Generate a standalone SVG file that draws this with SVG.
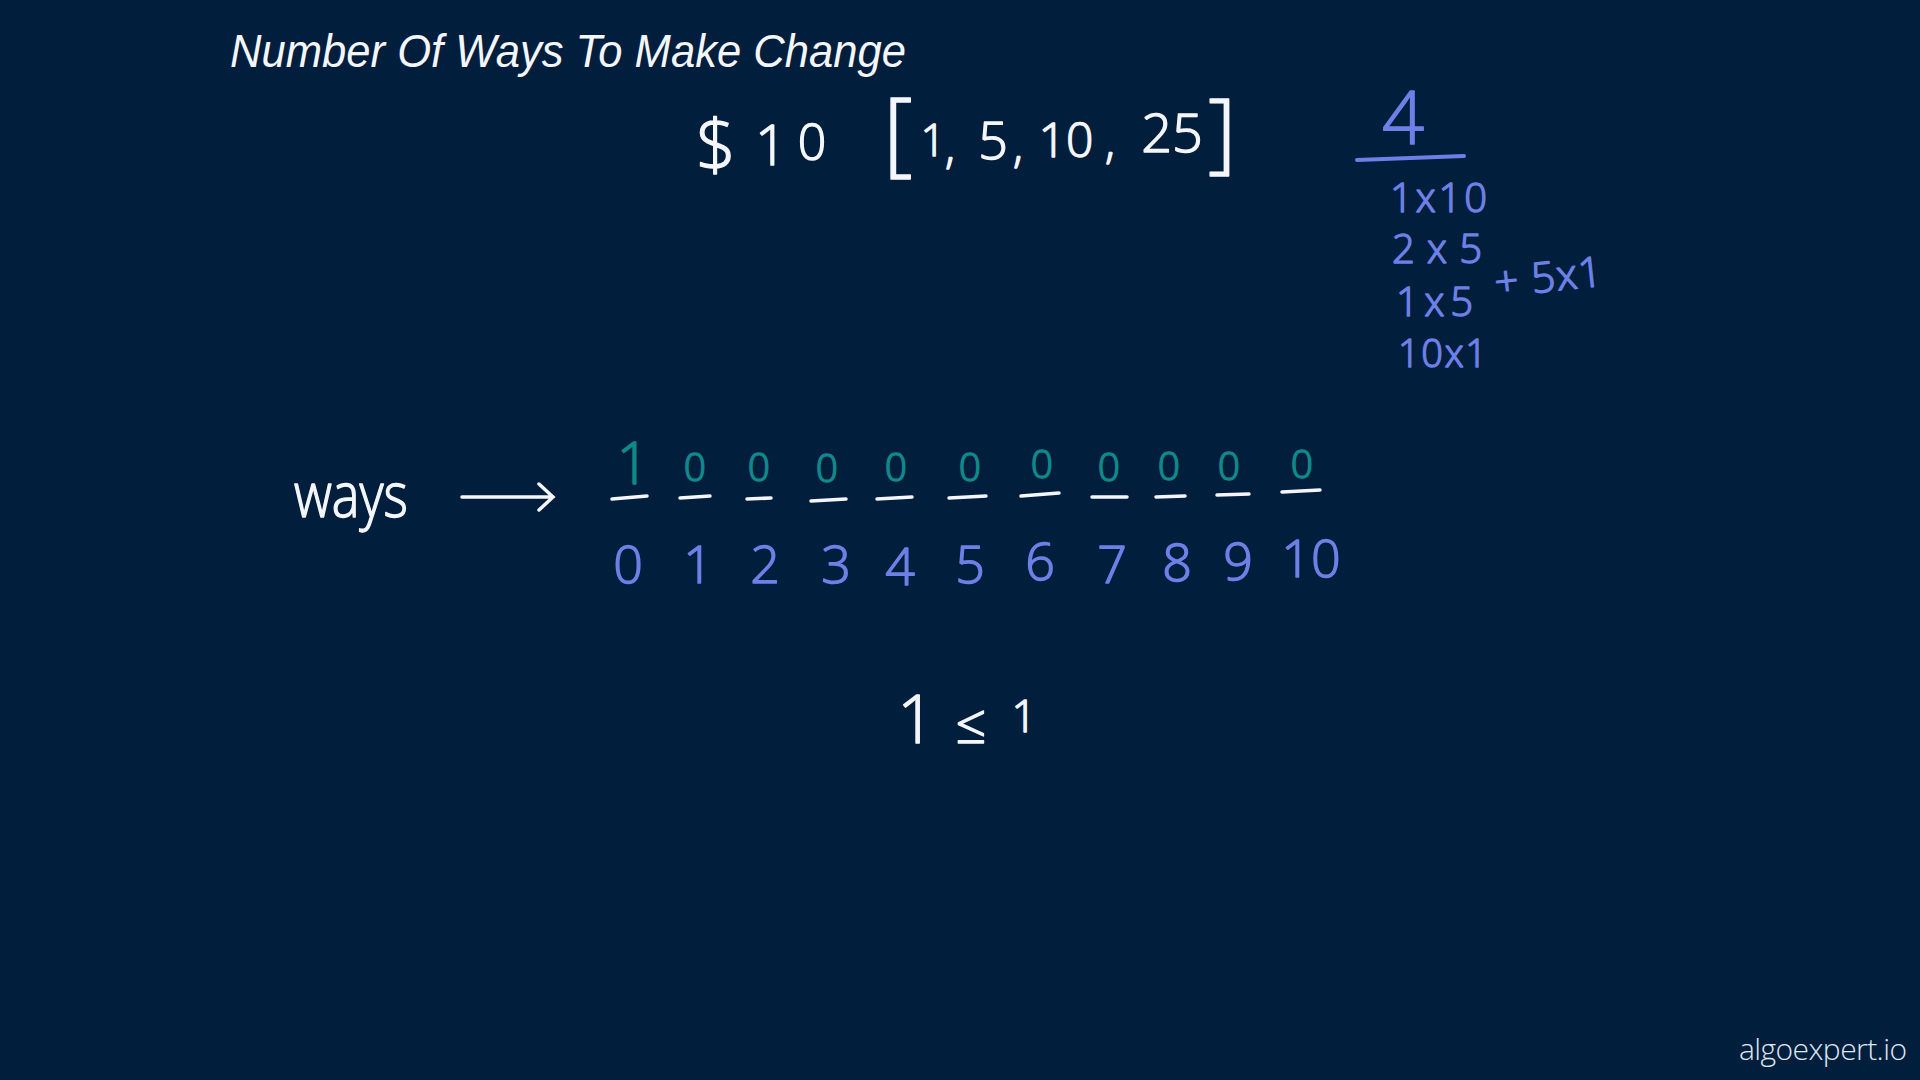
<svg xmlns="http://www.w3.org/2000/svg" width="1920" height="1080" viewBox="0 0 1920 1080">
<style>
.hw{font-family:"Open Sans","DejaVu Sans",sans-serif;font-weight:300;text-anchor:middle;stroke-width:1.4;stroke-linejoin:round}
.w{fill:#f4f6fb;stroke:#f4f6fb}
.b{fill:#6d80e6;stroke:#6d80e6}
.t{fill:#0f8a8c;stroke:#0f8a8c}
.ul{stroke:#f4f6fb;stroke-width:3.5;stroke-linecap:round;fill:none}
.bl{stroke:#6d80e6;stroke-width:4;stroke-linecap:round;fill:none}
</style>
<rect width="1920" height="1080" fill="#011e3d"/>
<g id="title">
<text x="230" y="67" font-family="'Liberation Sans',Arial,sans-serif" font-style="italic" font-size="46" fill="#f4f6fb" textLength="676" lengthAdjust="spacingAndGlyphs">Number Of Ways To Make Change</text>
</g>
<g id="problem" class="hw w">
<text x="716" y="170" font-size="70">$</text>
<text x="771" y="165" font-size="56">1</text>
<text x="812" y="160" font-size="50">0</text>
<text x="898" y="164" font-size="92">[</text>
<text x="933" y="156" font-size="44">1</text>
<text x="950" y="163" font-size="46">,</text>
<text x="993" y="159" font-size="52">5</text>
<text x="1018" y="162" font-size="46">,</text>
<text x="1066" y="157" font-size="48">10</text>
<text x="1110" y="158" font-size="46">,</text>
<text x="1172" y="152" font-size="54">25</text>
<text x="1222" y="162" font-size="88">]</text>
</g>
<g id="answer" class="hw b">
<text x="1403" y="144" font-size="74">4</text>
<path class="bl" d="M1357 160 L1464 156"/>
<text x="1390" y="212" font-size="40" style="text-anchor:start" textLength="97">1x10</text>
<text x="1392" y="263" font-size="40" style="text-anchor:start" textLength="90">2x5</text>
<text x="1396" y="316" font-size="40" style="text-anchor:start" textLength="77">1x5</text>
<text x="1496" y="297" font-size="42" style="text-anchor:start" textLength="108" transform="rotate(-6 1496 297)">+ 5x1</text>
<text x="1398" y="367" font-size="38" style="text-anchor:start" textLength="89">10x1</text>
</g>
<g id="ways-label" class="hw w">
<text x="294" y="517" font-size="62" style="text-anchor:start" textLength="114" lengthAdjust="spacingAndGlyphs">ways</text>
</g>
<g id="connectors">
<path class="ul" d="M462 497 L553 497 M539 484 L553 497 L539 510"/>
</g>
<g id="ways-array">
<g id="slots">
<path class="ul" d="M612 499 L647 496 M680 498 L710 496 M747 499 L771 498 M811 501 L846 499 M877 499 L912 497 M949 498 L986 496 M1021 496 L1059 493 M1092 497 L1127 497 M1156 497 L1185 496 M1217 495 L1249 494 M1282 492 L1320 490"/>
</g>
<g id="values" class="hw t">
<text x="633" y="484" font-size="58">1</text>
<text x="695" y="481" font-size="39">0</text>
<text x="759" y="481" font-size="39">0</text>
<text x="827" y="482" font-size="39">0</text>
<text x="896" y="481" font-size="39">0</text>
<text x="970" y="481" font-size="39">0</text>
<text x="1042" y="478" font-size="39">0</text>
<text x="1109" y="481" font-size="39">0</text>
<text x="1169" y="480" font-size="39">0</text>
<text x="1229" y="480" font-size="39">0</text>
<text x="1302" y="478" font-size="39">0</text>
</g>
<g id="indices" class="hw b">
<text x="628" y="583" font-size="52">0</text>
<text x="698" y="583" font-size="52">1</text>
<text x="765" y="583" font-size="52">2</text>
<text x="836" y="583" font-size="52">3</text>
<text x="900" y="585" font-size="52">4</text>
<text x="970" y="583" font-size="52">5</text>
<text x="1040" y="580" font-size="52">6</text>
<text x="1112" y="583" font-size="52">7</text>
<text x="1177" y="581" font-size="52">8</text>
<text x="1238" y="580" font-size="52">9</text>
<text x="1311" y="577" font-size="52">10</text>
</g>
</g>
<g id="comparison" class="hw w">
<text x="916" y="743" font-size="66">1</text>
<text x="971" y="743" font-size="54">≤</text>
<text x="1024" y="732" font-size="44">1</text>
</g>
<g id="watermark">
<text x="1739" y="1060" font-family="'Open Sans',Lato,sans-serif" font-weight="300" font-size="30" fill="#dfe6f0" textLength="168">algoexpert.io</text>
</g>
</svg>
